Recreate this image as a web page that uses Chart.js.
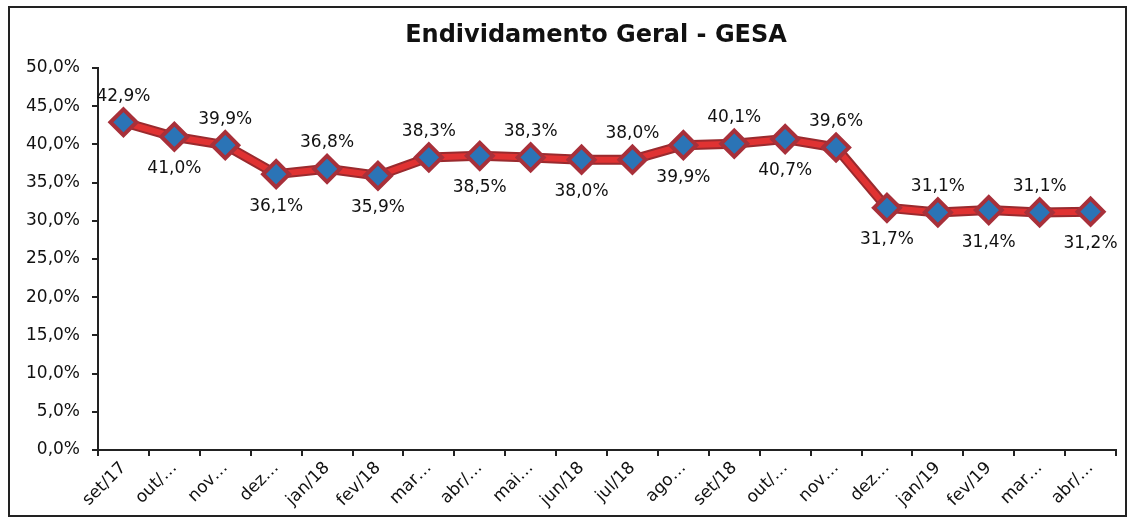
<!DOCTYPE html>
<html>
<head>
<meta charset="utf-8">
<script src="https://cdn.jsdelivr.net/npm/chart.js@4"></script>
<style>
  html, body { margin: 0; padding: 0; background: #fff; }
  #wrap { width: 1133px; height: 521px; }
</style>
</head>
<body>
<div id="wrap"><canvas id="endividamentoCanvas" width="1133" height="521"></canvas></div>
<script>
const TITLE = 'Endividamento Geral - GESA';
const categories = ['set/17', 'out/…', 'nov…', 'dez…', 'jan/18', 'fev/18', 'mar…', 'abr/…', 'mai…', 'jun/18',
                    'jul/18', 'ago…', 'set/18', 'out/…', 'nov…', 'dez…', 'jan/19', 'fev/19', 'mar…', 'abr/…'];
const endividamento = [42.9, 41.0, 39.9, 36.1, 36.8, 35.9, 38.3, 38.5, 38.3, 38.0,
                       38.0, 39.9, 40.1, 40.7, 39.6, 31.7, 31.1, 31.4, 31.1, 31.2];
const Y_MIN = 0, Y_MAX = 50, Y_STEP = 5;

const FONT = '"DejaVu Sans", Arial, sans-serif';
const fmt = v => v.toFixed(1).replace('.', ',') + '%';

// frame, title and value labels
const decorations = {
  id: 'decorations',
  beforeDraw(chart) {
    const ctx = chart.ctx;
    ctx.save();
    ctx.fillStyle = '#fff';
    ctx.fillRect(0, 0, chart.width, chart.height);
    ctx.strokeStyle = '#222';
    ctx.lineWidth = 2;
    ctx.strokeRect(9, 7, 1117, 509);
    ctx.restore();
  },
  afterDatasetsDraw(chart) {
    const ctx = chart.ctx;
    ctx.save();
    ctx.fillStyle = '#111';
    ctx.font = 'bold 24px ' + FONT;
    ctx.textAlign = 'center';
    ctx.textBaseline = 'middle';
    ctx.fillText(TITLE, 596, 36);

    ctx.font = '17px ' + FONT;
    const meta = chart.getDatasetMeta(1);
    meta.data.forEach((pt, i) => {
      const above = i % 2 === 0;
      ctx.fillText(fmt(endividamento[i]), pt.x, pt.y + (above ? -26 : 32));
    });
    ctx.restore();
  }
};

new Chart(document.getElementById('endividamentoCanvas'), {
  type: 'line',
  data: {
    labels: categories,
    datasets: [
      {
        // dark edge under the red line
        data: endividamento,
        order: 2,
        borderColor: '#9a2a2e',
        borderWidth: 10,
        pointRadius: 0,
        tension: 0
      },
      {
        data: endividamento,
        order: 1,
        borderColor: '#e03232',
        borderWidth: 6,
        pointStyle: 'rectRot',
        pointRadius: 13,
        pointBackgroundColor: '#2b74b6',
        pointBorderColor: '#a8303a',
        pointBorderWidth: 4,
        tension: 0
      }
    ]
  },
  options: {
    responsive: false,
    animation: false,
    layout: { padding: { top: 68, left: 12, right: 17, bottom: 0 } },
    plugins: {
      legend: { display: false },
      tooltip: { enabled: false },
      title: { display: false }
    },
    scales: {
      x: {
        offset: true,
        grid: { offset: true, drawOnChartArea: false, color: '#222', tickLength: 6, lineWidth: 2 },
        border: { display: true, color: '#222', width: 2 },
        afterFit(scale) { scale.height = 71; },
        ticks: {
          color: '#111',
          font: { family: FONT, size: 17 },
          minRotation: 45,
          maxRotation: 45,
          autoSkip: false,
          padding: 2
        }
      },
      y: {
        min: Y_MIN,
        max: Y_MAX,
        grid: { drawOnChartArea: false, color: '#222', tickLength: 6, lineWidth: 2 },
        border: { display: true, color: '#222', width: 2 },
        afterFit(scale) { scale.width = 86; },
        ticks: {
          stepSize: Y_STEP,
          color: '#111',
          font: { family: FONT, size: 17 },
          padding: 12,
          callback: v => fmt(v)
        }
      }
    }
  },
  plugins: [decorations]
});
</script>
</body>
</html>
